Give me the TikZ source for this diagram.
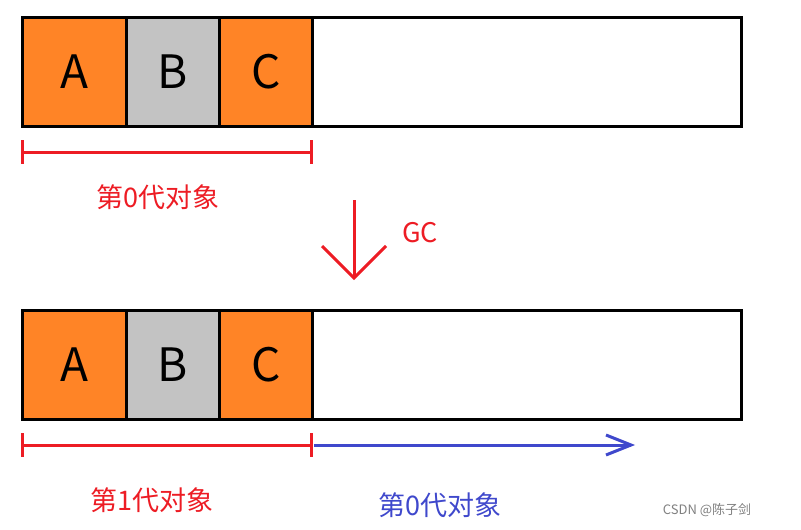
\documentclass[tikz,border=0pt]{standalone}
\usepackage{fontspec}
\setmainfont{Noto Sans CJK SC}
\newfontfamily\cjk{Noto Sans CJK SC}
\usetikzlibrary{positioning}
\definecolor{cellorange}{RGB}{255,132,38}
\definecolor{cellgray}{RGB}{195,195,195}
\definecolor{gcred}{RGB}{237,28,36}
\definecolor{genblue}{RGB}{63,72,204}
\tikzset{
  cell/.style={draw=black, line width=3pt, minimum height=109pt, inner sep=0pt, font=\fontsize{46}{46}\selectfont},
  genlabel/.style={font=\cjk\fontsize{27}{27}\selectfont},
}
\begin{document}
\begin{tikzpicture}[x=1pt,y=-1pt]
      \useasboundingbox (0,0) rectangle (801,530);
      % top memory
      \node [cell, fill=cellorange, minimum width=104pt, anchor=north west] (ta) at (21,16) {A};
      \node [cell, fill=cellgray, minimum width=93pt, anchor=north west] (tb) at (125,16) {B};
      \node [cell, fill=cellorange, minimum width=93pt, anchor=north west] (tc) at (218,16) {C};
      \node [cell, minimum width=429pt, anchor=north west] (tf) at (311,16) {};
      \draw [gcred, line width=3pt] (22,152) -- (311,152);
      \draw [gcred, line width=3pt] (22,140) -- (22,164);
      \draw [gcred, line width=3pt] (311,140) -- (311,164);
      \node [genlabel, text=gcred] (t0) at (158,197) {第0代对象};
      % gc
      \coordinate (gs) at (354,200);
      \coordinate (ge) at (354,278);
      \draw [gcred, line width=3pt] (gs) -- (ge);
      \draw [gcred, line width=3pt] (322,246) -- (ge) -- (386,246);
      \node [genlabel, text=gcred] (gc) at (420,233) {GC};
      % bottom memory
      \node [cell, fill=cellorange, minimum width=104pt, anchor=north west] (ba) at (21,309) {A};
      \node [cell, fill=cellgray, minimum width=93pt, anchor=north west] (bb) at (125,309) {B};
      \node [cell, fill=cellorange, minimum width=93pt, anchor=north west] (bc) at (218,309) {C};
      \node [cell, minimum width=429pt, anchor=north west] (bf) at (311,309) {};
      \draw [gcred, line width=3pt] (22,445) -- (311,445);
      \draw [gcred, line width=3pt] (22,433) -- (22,457);
      \draw [gcred, line width=3pt] (311,433) -- (311,457);
      \coordinate (be) at (631,445);
      \draw [genblue, line width=3pt] (314,445) -- (be);
      \draw [genblue, line width=3pt] (606,435) -- (be) -- (606,455);
      \node [genlabel, text=gcred] (b1) at (152,500) {第1代对象};
      \node [genlabel, text=genblue] (b0) at (440,505) {第0代对象};
      \node [text=gray, font=\cjk\fontsize{13}{13}\selectfont] (wm) at (707,510) {CSDN @陈子剑};
    \end{tikzpicture}
\end{document}
